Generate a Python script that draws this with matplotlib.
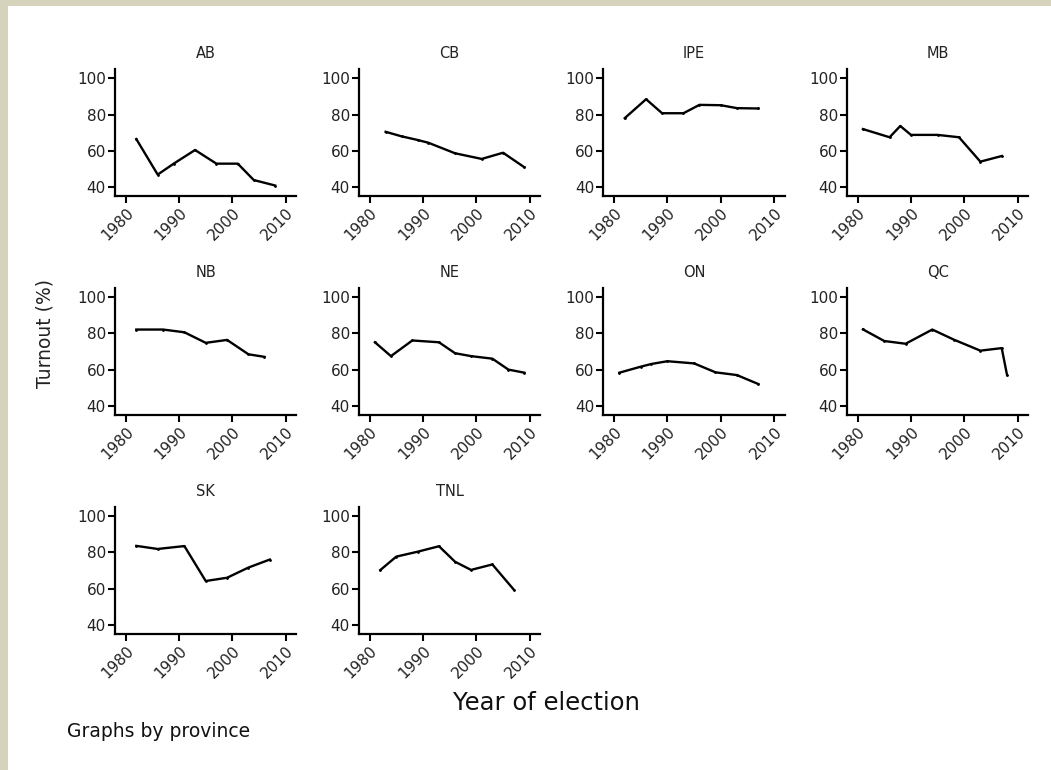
import matplotlib.pyplot as plt
from matplotlib.patches import Rectangle

plt.rcParams['font.family'] = ['DejaVu Sans']

provinces = ["AB", "CB", "IPE", "MB", "NB", "NE", "ON", "QC", "SK", "TNL"]

years_ab = [1982, 1986, 1989, 1993, 1997, 2001, 2004, 2008]
turnout_ab = [66.5, 47, 53, 60.5, 53, 53, 44, 41]

years_cb = [1983, 1986, 1989, 1991, 1996, 2001, 2005, 2009]
turnout_cb = [70.5, 68, 66, 64.5, 58.7, 55.6, 59, 51]

years_ipe = [1982, 1986, 1989, 1993, 1996, 2000, 2003, 2007]
turnout_ipe = [78, 88.4, 80.7, 80.7, 85.3, 85.1, 83.5, 83.3]

years_mb = [1981, 1986, 1988, 1990, 1995, 1999, 2003, 2007]
turnout_mb = [72, 67.5, 73.7, 68.8, 68.8, 67.5, 54.1, 57.2]

years_nb = [1982, 1987, 1991, 1995, 1999, 2003, 2006]
turnout_nb = [82, 82, 80.5, 74.7, 76.3, 68.4, 67]

years_ne = [1981, 1984, 1988, 1993, 1996, 1999, 2003, 2006, 2009]
turnout_ne = [75, 67.4, 76, 75, 69, 67.4, 66, 60, 58.3]

years_on = [1981, 1985, 1987, 1990, 1995, 1999, 2003, 2007]
turnout_on = [58.3, 61.6, 63.1, 64.6, 63.4, 58.5, 57, 52.1]

years_qc = [1981, 1985, 1989, 1994, 1998, 2003, 2007, 2008]
turnout_qc = [82.1, 75.7, 74.2, 82, 76.5, 70.4, 71.8, 57]

years_sk = [1982, 1986, 1991, 1995, 1999, 2003, 2007]
turnout_sk = [83.5, 81.8, 83.4, 64.2, 66, 71.6, 76]

years_tnl = [1982, 1985, 1989, 1993, 1996, 1999, 2003, 2007]
turnout_tnl = [70.2, 77.6, 80.3, 83.3, 74.8, 70.3, 73.3, 59.5]

series = {
    "AB": (years_ab, turnout_ab),
    "CB": (years_cb, turnout_cb),
    "IPE": (years_ipe, turnout_ipe),
    "MB": (years_mb, turnout_mb),
    "NB": (years_nb, turnout_nb),
    "NE": (years_ne, turnout_ne),
    "ON": (years_on, turnout_on),
    "QC": (years_qc, turnout_qc),
    "SK": (years_sk, turnout_sk),
    "TNL": (years_tnl, turnout_tnl),
}

fig = plt.figure(figsize=(10.51, 7.70), dpi=100)
fig.patch.set_facecolor("white")

# beige frame on the left and top edges
fig.patches.append(Rectangle((0, 0), 8 / 1051, 1, transform=fig.transFigure,
                             facecolor="#d5d3bb", edgecolor="none", zorder=0))
fig.patches.append(Rectangle((0, 1 - 6 / 770), 1, 6 / 770, transform=fig.transFigure,
                             facecolor="#d5d3bb", edgecolor="none", zorder=0))

lefts = [0.1094, 0.3415, 0.5741, 0.8058]
bottoms = [0.7449, 0.4609, 0.1764]
w, h = 0.1727, 0.1655

for i, prov in enumerate(provinces):
    r, c = divmod(i, 4)
    ax = fig.add_axes([lefts[c], bottoms[r], w, h])
    yrs, vals = series[prov]
    ax.plot(yrs, vals, color="black", lw=1.7, marker=".", ms=2)
    ax.set_xlim(1978, 2012)
    ax.set_ylim(35, 105)
    ax.set_xticks([1980, 1990, 2000, 2010])
    ax.set_yticks([40, 60, 80, 100])
    ax.set_xticklabels(["1980", "1990", "2000", "2010"], rotation=45,
                       ha="right", va="top", rotation_mode="anchor")
    for s in ["top", "right"]:
        ax.spines[s].set_visible(False)
    for s in ["left", "bottom"]:
        ax.spines[s].set_linewidth(1.6)
    ax.tick_params(length=5, width=1.5, pad=1.5, labelsize=11, colors="black",
                   labelcolor="#222222")
    ax.set_title(prov, fontsize=10.5, pad=8, color="#222222")
    ax.set_facecolor("white")

fig.text(0.043, 0.567, "Turnout (%)", rotation=90, fontsize=13.5,
         ha="center", va="center", color="#222222")
fig.text(0.52, 0.087, "Year of election", fontsize=17.5,
         ha="center", va="center", color="#111111")
fig.text(0.064, 0.050, "Graphs by province", fontsize=13.5,
         ha="left", va="center", color="#111111")

fig.savefig("out.png", dpi=100)
